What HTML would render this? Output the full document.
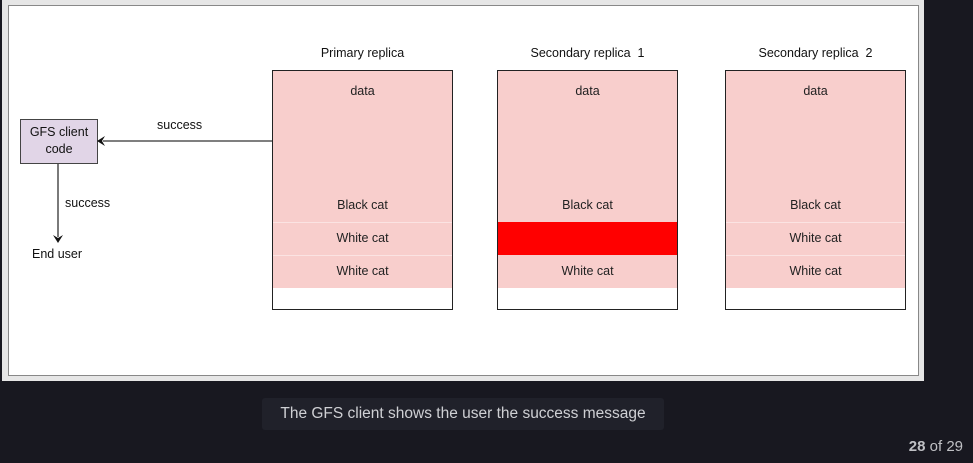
<!DOCTYPE html>
<html><head><style>
body{margin:0;width:973px;height:463px;background:#181820;position:relative;overflow:hidden;font-family:"Liberation Sans",sans-serif}
.abs{position:absolute}
.t{position:absolute;font-size:12.5px;color:#111;text-align:center;white-space:nowrap}
.box{position:absolute;width:181px;height:240px;border:1px solid #222;background:#fff;top:70px;box-sizing:border-box}
.pink{position:absolute;left:0;top:0;width:179px;height:217px;background:#f8cecc}
.row{position:absolute;left:0;width:179px;height:33px;line-height:33px;text-align:center;font-size:12.5px;color:#222}
.sep{box-shadow:inset 0 1px 0 #fbe3e2}
</style></head><body>
<div class="abs" style="left:2px;top:0;width:922px;height:381px;background:#e6e6e6"></div>
<div class="abs" style="left:8px;top:5px;width:909px;height:369px;background:#fff;border:1px solid #888"></div>

<div class="t" style="left:272px;width:181px;top:46px">Primary replica</div>
<div class="t" style="left:497px;width:181px;top:46px">Secondary replica&nbsp; 1</div>
<div class="t" style="left:725px;width:181px;top:46px">Secondary replica&nbsp; 2</div>

<div class="box" style="left:272px"><div class="pink"></div>
<div class="row" style="top:4px">data</div>
<div class="row" style="top:118px">Black cat</div>
<div class="row sep" style="top:151px">White cat</div>
<div class="row sep" style="top:184px">White cat</div></div>

<div class="box" style="left:497px"><div class="pink"></div>
<div class="row" style="top:4px">data</div>
<div class="row" style="top:118px">Black cat</div>
<div class="row" style="top:151px;background:#ff0000"></div>
<div class="row" style="top:184px">White cat</div></div>

<div class="box" style="left:725px"><div class="pink"></div>
<div class="row" style="top:4px">data</div>
<div class="row" style="top:118px">Black cat</div>
<div class="row sep" style="top:151px">White cat</div>
<div class="row sep" style="top:184px">White cat</div></div>

<div class="abs" style="left:20px;top:119px;background:#e1d5e7;border:1px solid #444;font-size:12.5px;text-align:center;line-height:17px;padding-top:4px;box-sizing:border-box;height:45px;width:78px;color:#111">GFS client<br>code</div>

<svg class="abs" style="left:0;top:0" width="973" height="463">
<line x1="272" y1="141" x2="103" y2="141" stroke="#333" stroke-width="1.3"/>
<polygon points="97,141 105,136 102,141 105,146" fill="#111"/>
<line x1="58" y1="164" x2="58" y2="237" stroke="#333" stroke-width="1.3"/>
<polygon points="58,243 53,235 58,238 63,235" fill="#111"/>
</svg>
<div class="t" style="left:157px;top:118px">success</div>
<div class="t" style="left:65px;top:196px">success</div>
<div class="t" style="left:32px;top:247px">End user</div>

<div class="abs" style="left:262px;top:398px;width:402px;height:32px;background:#20212a;border-radius:3px;color:#cfd0d4;font-size:15.5px;line-height:32px;text-align:center">The GFS client shows the user the success message</div>
<div class="abs" style="left:880px;top:438px;width:83px;text-align:right;color:#bfc0c4;font-size:15px"><b>28</b> of 29</div>
</body></html>
